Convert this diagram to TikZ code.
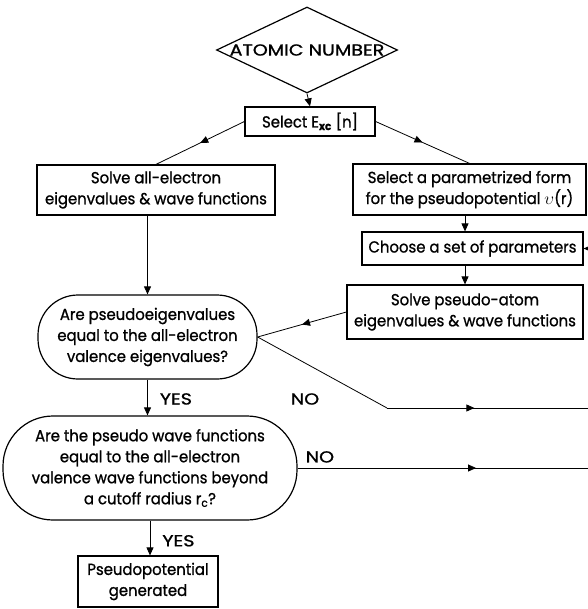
\documentclass[tikz,border=0pt]{standalone}
\usepackage{graphicx}
\usepackage{fontspec}
\setmainfont[FakeStretch=0.93,FakeBold=1]{Poppins}
\usetikzlibrary{shapes.geometric,arrows.meta,decorations.markings}
\newcommand\diafont{\fontsize{16}{21}\selectfont}
\newcommand\wcaps[1]{\scalebox{1.28}[1]{#1}}
\begin{document}
\begin{tikzpicture}[x=1pt,y=-1pt,
  box/.style={draw, line width=1.2pt, inner sep=0pt, align=center, font=\diafont},
  stadium/.style={box, rounded corners=#1},
  tip/.style={line width=0.8pt, -{Triangle[length=8pt,width=7pt]}},
  conn/.style={line width=0.8pt},
  midarr/.style={line width=0.8pt, postaction={decorate},
    decoration={markings, mark=at position #1 with {\arrow{Triangle[length=8pt,width=7pt]}}}},
  lbl/.style={font=\diafont, inner sep=0pt}]
\useasboundingbox (0,0) rectangle (587,609);
\node[box, shape=diamond, aspect=2.1, minimum width=181pt, minimum height=86pt] (atomic) at (307,50) {\wcaps{ATOMIC NUMBER}};
\node[box, minimum width=130pt, minimum height=29pt] (select) at (310,121.5) {Select E\textsubscript{\textbf{xc}} [n]};
\node[box, minimum width=238pt, minimum height=50pt] (solveAE) at (156,190) {Solve all-electron\\eigenvalues \& wave functions};
\node[box, minimum width=233pt, minimum height=51pt] (param) at (469.5,189.5) {Select a parametrized form\\for the pseudopotential $\upsilon$(r)};
\node[box, minimum width=221pt, minimum height=33pt] (choose) at (472.5,248.5) {Choose a set of parameters};
\node[box, minimum width=236pt, minimum height=54pt] (pseudo) at (465,312) {Solve pseudo-atom\\eigenvalues \& wave functions};
\node[stadium=40pt, minimum width=219pt, minimum height=84pt] (q1) at (147.5,337) {Are pseudoeigenvalues\\equal to the all-electron\\valence eigenvalues?};
\node[stadium=50pt, minimum width=294pt, minimum height=104pt] (q2) at (150,468) {Are the pseudo wave functions\\equal to the all-electron\\valence wave functions beyond\\a cutoff radius r\textsubscript{c}?};
\node[box, minimum width=140pt, minimum height=51pt] (final) at (148,581.5) {Pseudopotential\\generated};
\coordinate (fb) at (595,248.5);
\coordinate (n1a) at (387,408);
\coordinate (n1b) at (595,408);
\coordinate (n2) at (595,468);
\draw[tip] (atomic.south) -- (select.north);
\draw[midarr=0.5] (select.west) -- (solveAE.north);
\draw[midarr=0.5] (select.east) -- (param.north);
\draw[tip] (solveAE.south -| q1.north) -- (q1.north);
\draw[tip] (param.south -| pseudo.north) -- (choose.north -| pseudo.north);
\draw[tip] (choose.south -| pseudo.north) -- (pseudo.north);
\draw[tip] (fb) -- (choose.east);
\draw[midarr=0.5] (pseudo.west) -- (q1.east);
\draw[conn] (q1.east) -- (n1a);
\draw[midarr=0.42] (n1a) -- (n1b);
\node[lbl] (no1) at ([xshift=-82pt,yshift=9pt]n1a) {\wcaps{NO}};
\draw[midarr=0.6] (q2.east) -- node[lbl, pos=0.075, above=5pt] (no2) {\wcaps{NO}} (n2);
\draw[tip] (q1.south) -- node[lbl, pos=0.54, right=12pt] (yes1) {\wcaps{YES}} (q1.south |- q2.north);
\draw[tip] (q2.south) -- node[lbl, pos=0.58, right=12pt] (yes2) {\wcaps{YES}} (q2.south |- final.north);
\end{tikzpicture}
\end{document}
